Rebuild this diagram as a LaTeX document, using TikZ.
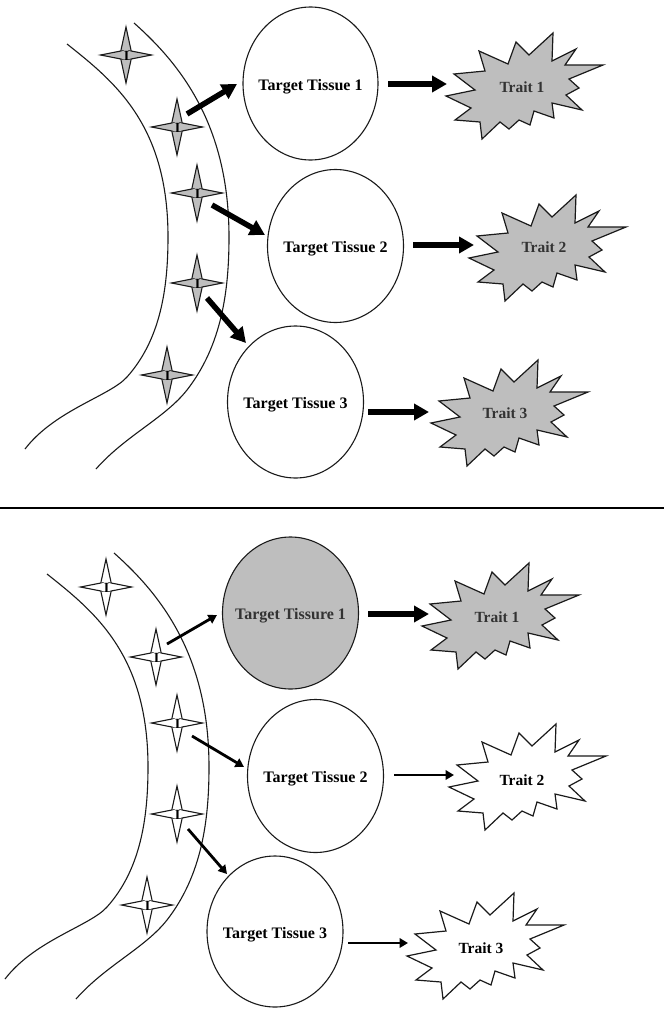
\documentclass[tikz,border=0pt]{standalone}
\usepackage{fontspec}
\setmainfont{Liberation Serif}
\usetikzlibrary{arrows.meta,shapes.geometric}
\definecolor{fillgrey}{HTML}{BEBEBE}
\definecolor{inkdark}{HTML}{1A1A1A}
\definecolor{inkgrey}{HTML}{333333}
\tikzset{
  vessel/.style={draw=inkdark,line width=1.1pt},
  tissue/.style={draw=inkdark,line width=1.1pt,ellipse,inner sep=0pt,outer sep=0pt,font=\bfseries\fontsize{16}{18}\selectfont},
  traitlabel/.style={font=\bfseries\fontsize{15.5}{17}\selectfont,inner sep=0pt},
  sparkletext/.style={font=\bfseries\fontsize{14}{14}\selectfont,inner sep=0pt,text=black},
  heavyarrow/.style={line width=5.5pt,-{Triangle[length=15pt,width=16pt]},black},
  lightarrow/.style={line width=2.8pt,-{Triangle[length=8.5pt,width=9.5pt]},black},
}
\newcommand{\tlabel}[1]{\smash{\raisebox{-6.5pt}{\makebox[0pt]{#1}}}}
\newcommand{\sparkleat}[4]{%
  \begin{scope}[shift={(#2,#3)}]
  \draw[line width=1.1pt,draw=inkdark,fill=#4,line join=miter]
    (0,-28)--(5.2,-4)--(25.5,0)--(5.2,4)--(0,28)--(-5.2,4)--(-25.5,0)--(-5.2,-4)--cycle;
  \draw[line width=0.6pt,draw=inkdark] (5.2,-4)--(2.4,-4.6) (5.2,4)--(2.4,4.6) (-5.2,-4)--(-2.4,-4.6) (-5.2,4)--(-2.4,4.6);
  \end{scope}
  \node[sparkletext] (#1) at (#2+0.5,#3+0.5) {I};}
\newcommand{\burstat}[7]{%
  \draw[line width=1.2pt,draw=inkdark,fill=#4,shift={(#2,#3)}]
   (31,-54)--(30,-26)--(54,-38)--(43,-22)--(81,-22)--(47,-8)--(57,1)--(44,8)--(60,23)--(30,16)--(32,31)--(12,24)--(8,38)--(-3,33)--(-13,42)--(-22,35)--(-40,52)--(-42,35)--(-67,33)--(-51,21)--(-76,9)--(-47,3)--(-68,-13)--(-37,-16)--(-43,-36)--(-14,-23)--(-6,-45)--(7,-32)--cycle;
  \node[traitlabel,text=#7] (#1) at (#5,#6) {\burstname};}
\newcommand{\burstname}{}
\newcommand{\vesselpair}{%
  \draw[vessel] (67,44) .. controls (115,82) and (168,125) .. (168,237)
     .. controls (168,290) and (160,340) .. (127,377)
     .. controls (110,396) and (55,410) .. (25,449);
  \draw[vessel] (134,23) .. controls (185,68) and (229,130) .. (229,237)
     .. controls (229,290) and (222,345) .. (187,390)
     .. controls (165,418) and (125,436) .. (96,469);}
\begin{document}
\begin{tikzpicture}[x=1pt,y=-1pt]
\useasboundingbox (0,0) rectangle (664,1009);
\fill[white] (0,0) rectangle (664,1009);
% upper panel
\vesselpair
\sparkleat{s1}{126}{55}{fillgrey}
\sparkleat{s2}{177}{127}{fillgrey}
\sparkleat{s3}{197}{193}{fillgrey}
\sparkleat{s4}{197}{283}{fillgrey}
\sparkleat{s5}{167}{375}{fillgrey}
\node[tissue,minimum width=135pt,minimum height=153pt] (t1) at (310.5,83.5) {\tlabel{Target Tissue 1}};
\node[tissue,minimum width=136pt,minimum height=153pt] (t2) at (335.5,246) {\tlabel{Target Tissue 2}};
\node[tissue,minimum width=136pt,minimum height=152pt] (t3) at (295.5,402) {\tlabel{Target Tissue 3}};
\renewcommand{\burstname}{Trait 1}\burstat{b1}{522}{87}{fillgrey}{522}{87}{inkgrey}
\renewcommand{\burstname}{Trait 2}\burstat{b2}{545}{249}{fillgrey}{544}{247}{inkgrey}
\renewcommand{\burstname}{Trait 3}\burstat{b3}{507}{414}{fillgrey}{505}{413}{inkgrey}
\coordinate (a1s) at (187,114); \coordinate (a1e) at (237,84);
\coordinate (a2s) at (388,84);  \coordinate (a2e) at (447,84);
\coordinate (a3s) at (212,205); \coordinate (a3e) at (265,235);
\coordinate (a4s) at (413,245); \coordinate (a4e) at (474,245);
\coordinate (a5s) at (207,298); \coordinate (a5e) at (246,343);
\coordinate (a6s) at (368,412); \coordinate (a6e) at (429,412);
\draw[heavyarrow] (a1s)--(a1e);
\draw[heavyarrow] (a2s)--(a2e);
\draw[heavyarrow] (a3s)--(a3e);
\draw[heavyarrow] (a4s)--(a4e);
\draw[heavyarrow] (a5s)--(a5e);
\draw[heavyarrow] (a6s)--(a6e);
% divider
\coordinate (dl) at (0,508); \coordinate (dr) at (664,508);
\draw[line width=2pt,black] (dl)--(dr);
% lower panel
\begin{scope}[shift={(-20,530)}]
\vesselpair
\end{scope}
\sparkleat{w1}{106}{587}{white}
\sparkleat{w2}{156}{657}{white}
\sparkleat{w3}{177}{723}{white}
\sparkleat{w4}{177}{814}{white}
\sparkleat{w5}{147}{905}{white}
\node[tissue,fill=fillgrey,text=inkgrey,minimum width=136pt,minimum height=152pt] (u1) at (290.5,613) {\tlabel{Target Tissure 1}};
\node[tissue,minimum width=136pt,minimum height=153pt] (u2) at (315.5,776) {\tlabel{Target Tissue 2}};
\node[tissue,minimum width=136pt,minimum height=151pt] (u3) at (275,931.5) {\tlabel{Target Tissue 3}};
\renewcommand{\burstname}{Trait 1}\burstat{c1}{498}{617}{fillgrey}{497}{617}{inkgrey}
\renewcommand{\burstname}{Trait 2}\burstat{c2}{525}{778}{white}{522}{780}{black}
\renewcommand{\burstname}{Trait 3}\burstat{c3}{483}{947}{white}{481}{948}{black}
\coordinate (d1s) at (167,644); \coordinate (d1e) at (217,615);
\coordinate (d2s) at (368,614); \coordinate (d2e) at (429,614);
\coordinate (d3s) at (192,736); \coordinate (d3e) at (244,767);
\coordinate (d4s) at (394,775); \coordinate (d4e) at (454,775);
\coordinate (d5s) at (188,829); \coordinate (d5e) at (227,874);
\coordinate (d6s) at (348,943); \coordinate (d6e) at (408,943);
\draw[lightarrow] (d1s)--(d1e);
\draw[heavyarrow] (d2s)--(d2e);
\draw[lightarrow] (d3s)--(d3e);
\draw[lightarrow] (d4s)--(d4e);
\draw[lightarrow] (d5s)--(d5e);
\draw[lightarrow] (d6s)--(d6e);
\end{tikzpicture}
\end{document}
